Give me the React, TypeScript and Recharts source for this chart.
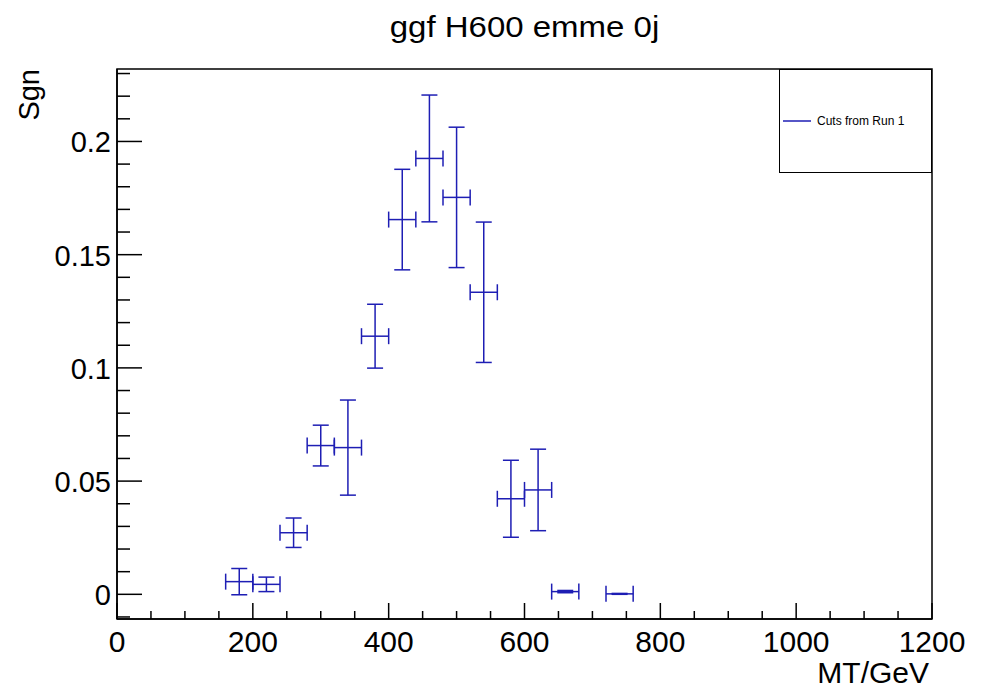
import { ScatterChart, Scatter, XAxis, YAxis, ErrorBar, ReferenceArea, Legend } from 'recharts'

// MT bin centres (GeV), all bins are 40 GeV wide
const binCenters = [180, 220, 260, 300, 340, 380, 420, 460, 500, 540, 580, 620, 660, 740]
const sgnValues = [0.0056, 0.0044, 0.0272, 0.0657, 0.0648, 0.114, 0.1655, 0.1925, 0.1753, 0.1334, 0.0422, 0.0461, 0.0012, 0.0002]
const sgnErrors = [0.0058, 0.0032, 0.0065, 0.009, 0.021, 0.0141, 0.0222, 0.028, 0.031, 0.031, 0.017, 0.018, 0.0005, 0.0002]
const binHalfWidth = 20

const xMajorTicks = [0, 200, 400, 600, 800, 1000, 1200]
const yMajorTicks = [0, 0.05, 0.1, 0.15, 0.2]
const yTickLabels = ['0', '0.05', '0.1', '0.15', '0.2']

const X_MIN = 0
const X_MAX = 1200
const Y_MIN = -0.0109
const Y_MAX = 0.232

const BLUE = '#1e1eb4'
const FONT = '"Liberation Sans", Arial, Helvetica, sans-serif'

const data = binCenters.map((x, i) => ({ x, y: sgnValues[i], ey: sgnErrors[i], ex: binHalfWidth }))

// minor ticks every 50 on x, every 0.01 on y
const xTicks: number[] = []
for (let v = 0; v <= 1200; v += 50) xTicks.push(v)
const yTicks: number[] = []
for (let i = -1; i <= 23; i++) yTicks.push(i / 100)

const XTick = ({ x, y, payload }: any) => {
  const v = payload.value
  const major = xMajorTicks.includes(v)
  return (
    <g>
      <line x1={x} x2={x} y1={y} y2={y - (major ? 16 : 8)} stroke="#000" strokeWidth={1.5} />
      {major && (
        <text x={x} y={y + 33} textAnchor="middle" fontSize={30} fontFamily={FONT} fill="#000">
          {v}
        </text>
      )}
    </g>
  )
}

const YTick = ({ x, y, payload }: any) => {
  const i = Math.round(payload.value * 100)
  const idx = yMajorTicks.findIndex((t) => Math.round(t * 100) === i)
  const major = idx >= 0
  return (
    <g>
      <line x1={x} x2={x + (major ? 25 : 13)} y1={y} y2={y} stroke="#000" strokeWidth={1.5} />
      {major && (
        <text x={x - 6} y={y + 11} textAnchor="end" fontSize={29} fontFamily={FONT} fill="#000">
          {yTickLabels[idx]}
        </text>
      )}
    </g>
  )
}

const LegendBox = () => (
  <div
    style={{
      width: 153,
      height: 104,
      boxSizing: 'border-box',
      border: '1.5px solid #000',
      background: '#fff',
      position: 'relative',
    }}
  >
    <svg width={150} height={100} style={{ position: 'absolute', left: 0, top: 0 }}>
      <line x1={3} x2={31} y1={51} y2={51} stroke={BLUE} strokeWidth={1.5} />
      <text x={37} y={55} fontSize={12} fontFamily={FONT} fill="#000">
        Cuts from Run 1
      </text>
    </svg>
  </div>
)

function App() {
  return (
    <div style={{ position: 'absolute', left: 0, top: 0, width: 981, height: 690, background: '#fff' }}>
      <ScatterChart width={981} height={690} margin={{ top: 69, right: 49, bottom: 0, left: 0 }}>
        <XAxis
          type="number"
          dataKey="x"
          domain={[X_MIN, X_MAX]}
          ticks={xTicks}
          interval={0}
          height={71}
          tickSize={0}
          tickMargin={0}
          tickLine={false}
          tick={<XTick />}
          axisLine={{ stroke: '#000', strokeWidth: 1.5 }}
          allowDataOverflow
        />
        <YAxis
          type="number"
          dataKey="y"
          domain={[Y_MIN, Y_MAX]}
          ticks={yTicks}
          interval={0}
          width={117}
          tickSize={0}
          tickMargin={0}
          tickLine={false}
          tick={<YTick />}
          axisLine={{ stroke: '#000', strokeWidth: 1.5 }}
          allowDataOverflow
        />
        <ReferenceArea x1={X_MIN} x2={X_MAX} y1={Y_MIN} y2={Y_MAX} fill="none" fillOpacity={0} stroke="#000" strokeWidth={1.5} />
        <Legend
          layout="horizontal"
          verticalAlign="middle"
          align="center"
          content={<LegendBox />}
          wrapperStyle={{ left: 779, top: 69, width: 153, height: 104 }}
        />
        <Scatter data={data} shape={() => <g />} isAnimationActive={false} legendType="line">
          <ErrorBar dataKey="ey" direction="y" width={8} stroke={BLUE} strokeWidth={1.5} isAnimationActive={false} />
          <ErrorBar dataKey="ex" direction="x" width={8} stroke={BLUE} strokeWidth={1.5} isAnimationActive={false} />
        </Scatter>
      </ScatterChart>
      <svg width={981} height={690} style={{ position: 'absolute', left: 0, top: 0, pointerEvents: 'none' }}>
        <text transform="translate(524.5,37) scale(1.1,1)" textAnchor="middle" fontSize={30} fontFamily={FONT} fill="#000">
          ggf H600 emme 0j
        </text>
        <text transform="translate(39,69) rotate(-90)" textAnchor="end" fontSize={29} fontFamily={FONT} fill="#000">
          Sgn
        </text>
        <text x={929} y={683} textAnchor="end" fontSize={30} fontFamily={FONT} fill="#000">
          MT/GeV
        </text>
      </svg>
    </div>
  )
}

export default App
